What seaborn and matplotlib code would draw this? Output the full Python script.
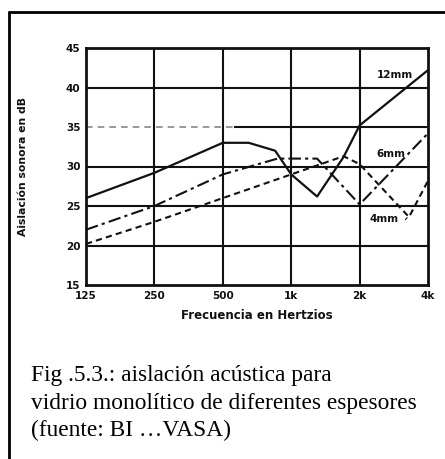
import numpy as np
import pandas as pd
import matplotlib
matplotlib.use("Agg")
import matplotlib.pyplot as plt
from matplotlib.lines import Line2D
import seaborn as sns

### data
freq_12mm = [125, 250, 500, 650, 850, 1000, 1300, 1700, 2000, 4000]
db_12mm = [26, 29.2, 33, 33, 32, 29, 26.2, 31.2, 35.2, 42.2]

freq_6mm = [125, 250, 500, 870, 1300, 2000, 4000]
db_6mm = [22, 25, 29, 31, 31, 25.2, 34.2]

freq_4mm = [125, 250, 500, 1000, 1700, 2000, 3300, 4000]
db_4mm = [20.2, 23, 26, 29, 31.3, 30.3, 23.6, 28.2]

xticks = [125, 250, 500, 1000, 2000, 4000]
xtick_labels = ['125', '250', '500', '1k', '2k', '4k']
yticks = [15, 20, 25, 30, 35, 40, 45]

caption = ["Fig .5.3.: aislación acústica para",
           "vidrio monolítico de diferentes espesores",
           "(fuente: BI \u2026VASA)"]

### style
sns.set_style("white")
plt.rcParams['font.family'] = ['DejaVu Sans']

fig = plt.figure(figsize=(4.45, 4.59), dpi=100)
ax = fig.add_axes([86/445, 1 - 285/459, (428 - 86)/445, (285 - 48)/459])

ink = '#111111'

### grid lines (the 35 dB line is faint on the left part of the scan)
for y in [20, 25, 30, 40]:
    ax.axhline(y, color=ink, lw=1.5, zorder=1)
ax.hlines(35, 125, 560, color='#888888', lw=1.2, linestyle=(0, (4, 3)), zorder=1)
ax.hlines(35, 560, 4000, color=ink, lw=1.5, zorder=1)
for x in xticks[1:-1]:
    ax.axvline(x, color=ink, lw=1.5, zorder=1)

### curves
sns.lineplot(x=freq_12mm, y=db_12mm, ax=ax, color=ink, lw=1.6, zorder=3)
sns.lineplot(x=freq_6mm, y=db_6mm, ax=ax, color=ink, lw=1.5, zorder=3,
             linestyle=(0, (6, 2, 1.5, 2)))
sns.lineplot(x=freq_4mm, y=db_4mm, ax=ax, color=ink, lw=1.5, zorder=3,
             linestyle=(0, (3, 2)))

ax.set_xscale('log', base=2)
ax.set_xlim(125, 4000)
ax.set_ylim(15, 45)
ax.set_xticks(xticks)
ax.set_xticklabels(xtick_labels)
ax.set_yticks(yticks)
ax.minorticks_off()
ax.tick_params(axis='both', length=3, width=1.2, color=ink, labelsize=7.5,
               labelcolor=ink, pad=1)
for lab in ax.get_xticklabels() + ax.get_yticklabels():
    lab.set_fontweight('bold')
for s in ax.spines.values():
    s.set_linewidth(2)
    s.set_color(ink)

### curve labels
lab_kw = dict(fontsize=7.5, fontweight='bold', color=ink, ha='center', va='center')
ax.text(2850, 41.6, '12mm', **lab_kw)
ax.text(2750, 31.6, '6mm', **lab_kw)
ax.text(2550, 23.3, '4mm', **lab_kw)
ax.annotate('', xy=(3300, 23.8), xytext=(3120, 23.0),
            arrowprops=dict(arrowstyle='-', color=ink, lw=0.8))

ax.set_xlabel('Frecuencia en Hertzios', fontsize=8.5, fontweight='bold',
              color=ink, labelpad=6)
ax.set_ylabel('Aislación sonora en dB', fontsize=7.8, fontweight='bold',
              color=ink, labelpad=27)

### page frame
fig.add_artist(Line2D([9/445, 9/445], [0, 1 - 12/459], color='black', lw=2))
fig.add_artist(Line2D([9/445, 1], [1 - 12/459, 1 - 12/459], color='black', lw=2))

### caption
for i, line in enumerate(caption):
    fig.text(31/445, 1 - (376 + i*27)/459, line, fontsize=16.8,
             family='Liberation Serif', color='black', va='center', ha='left')

plt.savefig('out.png', dpi=100)
